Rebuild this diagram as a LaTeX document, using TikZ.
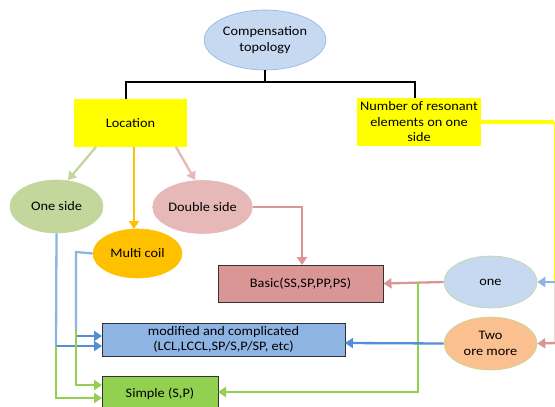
\documentclass[tikz,border=0pt]{standalone}
\usepackage{fontspec}
\setmainfont{Carlito}[FakeStretch=1.1]
\usetikzlibrary{shapes.geometric,arrows.meta}
\definecolor{cfill}{HTML}{C6D9F1}
\definecolor{cbord}{HTML}{8EB4E3}
\definecolor{yel}{HTML}{FFFF00}
\definecolor{lgreen}{HTML}{C3D69B}
\definecolor{lpink}{HTML}{E6B9B8}
\definecolor{orng}{HTML}{FFC000}
\definecolor{dpink}{HTML}{D99694}
\definecolor{mblue}{HTML}{8EB4E3}
\definecolor{dblue}{HTML}{558ED5}
\definecolor{sgreen}{HTML}{92D050}
\definecolor{peach}{HTML}{FAC090}
\tikzset{
  every node/.style={font=\fontsize{13}{15.5}\selectfont, align=center, inner sep=1pt},
  ell/.style={ellipse, draw=#1, line width=0.6pt},
  ybox/.style={rectangle, fill=yel},
  kbox/.style={rectangle, draw=black!80, line width=0.9pt},
  conn/.style={line width=2.3pt},
  arr/.style={line width=2.3pt, -{Triangle[length=8pt,width=10pt]}},
}
\begin{document}
\begin{tikzpicture}[x=1pt,y=-1pt]
\useasboundingbox (0,0) rectangle (555,407);
\fill[white] (0,0) rectangle (555,407);
% nodes
\node[ell=cbord, fill=cfill, minimum width=116pt, minimum height=60pt] (comp) at (265,40) {Compensation\\topology};
\node[ybox, minimum width=113pt, minimum height=48pt] (loc) at (130.5,123) {Location};
\node[ybox, minimum width=124pt, minimum height=48pt] (num) at (419,122) {Number of resonant\\elements on one\\side};
\node[ell=lgreen, fill=lgreen, minimum width=93pt, minimum height=53pt] (oneside) at (56.5,206.5) {One side};
\node[ell=lpink, fill=lpink, minimum width=93pt, minimum height=53pt] (dbl) at (202.5,207) {Double side};
\node[ell=orng, fill=orng, minimum width=89pt, minimum height=49pt] (multi) at (137.5,253.5) {Multi coil};
\node[kbox, fill=dpink, minimum width=165pt, minimum height=37pt] (basic) at (300.5,283.5) {Basic(SS,SP,PP,PS)};
\node[kbox, fill=mblue, minimum width=243pt, minimum height=33pt] (mod) at (223.5,339.5) {modified and complicated\\(LCL,LCCL,SP/S,P/SP, etc)};
\node[kbox, fill=sgreen, minimum width=116pt, minimum height=34pt] (simp) at (160,393.5) {Simple (S,P)};
\node[ell=lgreen, fill=cfill, minimum width=93pt, minimum height=52pt] (one) at (490.5,282) {one};
\node[ell=lgreen, fill=peach, minimum width=93pt, minimum height=53pt] (two) at (490.5,343.5) {Two\\ore more};
% black tree
\coordinate (bj) at (265,82);
\draw[conn, black, line width=2.6pt] (comp.south) -- (bj);
\draw[conn, black, line width=2.6pt] (126,82) -- (415,82);
\draw[conn, black, line width=2.6pt] (126,81) -- (126,99);
\draw[conn, black, line width=2.6pt] (415,81) -- (415,98);
% from location
\draw[arr, lgreen] (96,147) -- (68,180);
\draw[arr, orng] (134,147) -- (134,229);
\draw[arr, lpink] (176,147) -- (195,180);
% double side -> basic
\draw[arr, dpink] (dbl.east) -- (302,207) -- (302,265);
% one -> basic, simple
\draw[arr, dpink] (one.west) -- (basic.east);
\draw[arr, sgreen] (418,282) -- (418,392) -- (218,392);
% two -> mod
\draw[arr, dblue] (two.west) -- (345,343);
% one side
\draw[conn, mblue] (oneside.south) -- (56,346);
\draw[arr, dblue] (56,346) -- (102,346);
\draw[arr, sgreen] (56,346) -- (56,398) -- (102,398);
% multi coil
\draw[conn, mblue] (multi.west) -- (76,252) -- (76,330);
\draw[arr, dblue] (76,336) -- (102,336);
\draw[arr, sgreen] (76,330) -- (76,385) -- (102,385);
% right edge
\coordinate (re) at (554,122);
\draw[yel, line width=3.5pt] (num.east |- re) -- (re);
\draw[yel, line width=0.8pt] (re) -- (554,282);
\draw[lpink!60, line width=0.8pt] (554,282) -- (554,343);
\draw[arr, mblue] (557,282) -- (one.east);
\draw[arr, dpink] (557,343) -- (two.east);
\end{tikzpicture}
\end{document}
